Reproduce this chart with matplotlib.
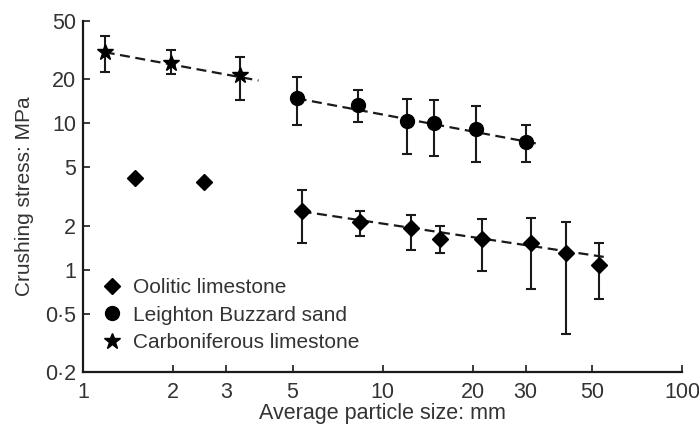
import matplotlib.pyplot as plt
from matplotlib.lines import Line2D

# Oolitic limestone (diamonds)
ool_x = [1.49, 2.54, 5.36, 8.38, 12.4, 15.5, 21.4, 31.3, 40.9, 52.7]
ool_y = [4.2, 3.94, 2.50, 2.10, 1.91, 1.63, 1.63, 1.53, 1.29, 1.08]
ool_lo = [None, None, 1.53, 1.71, 1.37, 1.29, 0.98, 0.74, 0.365, 0.63]
ool_hi = [None, None, 3.48, 2.50, 2.38, 2.00, 2.23, 2.27, 2.10, 1.51]
ool_fit_x = [5.36, 56.5]
ool_fit_y = [2.50, 1.21]

# Leighton Buzzard sand (circles)
sand_x = [5.16, 8.3, 12.1, 14.8, 20.5, 30.1]
sand_y = [14.8, 13.3, 10.3, 10.0, 9.2, 7.4]
sand_lo = [9.8, 10.2, 6.2, 6.0, 5.4, 5.4]
sand_hi = [20.7, 16.8, 14.6, 14.4, 13.1, 9.7]
sand_fit_x = [5.16, 33.5]
sand_fit_y = [14.8, 7.2]

# Carboniferous limestone (stars)
carb_x = [1.18, 1.97, 3.35]
carb_y = [30.6, 25.8, 21.3]
carb_lo = [22.4, 21.7, 14.4]
carb_hi = [39.4, 31.6, 28.3]
carb_fit_x = [1.18, 3.85]
carb_fit_y = [30.6, 19.6]

xticks = [1, 2, 3, 5, 10, 20, 30, 50, 100]
xtick_labels = ["1", "2", "3", "5", "10", "20", "30", "50", "100"]
yticks = [0.2, 0.5, 1, 2, 5, 10, 20, 50]
ytick_labels = ["0·2", "0·5", "1", "2", "5", "10", "20", "50"]

plt.rcParams['font.family'] = ['Liberation Sans', 'DejaVu Sans']
txt = '#333333'

fig = plt.figure(figsize=(6.99, 4.28), dpi=100)
ax = fig.add_axes([0.119, 0.131, 0.857, 0.820])
ax.set_xscale('log')
ax.set_yscale('log')

ekw = dict(fmt='none', ecolor='#1a1a1a', elinewidth=1.5, capsize=3.3, capthick=1.5)

# error bars
ex = [x for x, l in zip(ool_x, ool_lo) if l is not None]
ey = [y for y, l in zip(ool_y, ool_lo) if l is not None]
el = [l for l in ool_lo if l is not None]
eh = [h for h in ool_hi if h is not None]
ax.errorbar(ex, ey, yerr=[[y - l for y, l in zip(ey, el)], [h - y for y, h in zip(ey, eh)]], **ekw)
ax.errorbar(sand_x, sand_y, yerr=[[y - l for y, l in zip(sand_y, sand_lo)],
                                  [h - y for y, h in zip(sand_y, sand_hi)]], **ekw)
ax.errorbar(carb_x, carb_y, yerr=[[y - l for y, l in zip(carb_y, carb_lo)],
                                  [h - y for y, h in zip(carb_y, carb_hi)]], **ekw)

# fitted trend lines
for fx, fy in [(ool_fit_x, ool_fit_y), (sand_fit_x, sand_fit_y), (carb_fit_x, carb_fit_y)]:
    ax.plot(fx, fy, color='#1a1a1a', lw=1.6, ls=(0, (4.5, 2.5)))

ax.plot(ool_x, ool_y, 'D', color='black', ms=8.5, zorder=5)
ax.plot(sand_x, sand_y, 'o', color='black', ms=10, zorder=5)
ax.plot(carb_x, carb_y, '*', color='black', ms=12, zorder=5)

ax.set_xlim(1, 100)
ax.set_ylim(0.2, 50)
ax.set_xticks(xticks)
ax.set_xticklabels(xtick_labels)
ax.set_yticks(yticks)
ax.set_yticklabels(ytick_labels)
ax.minorticks_off()
ax.tick_params(direction='in', length=5, width=1.2, labelsize=15.5, colors='#1a1a1a',
               labelcolor=txt, pad=5)
ax.tick_params(axis='x', pad=7)

for s in ['top', 'right']:
    ax.spines[s].set_visible(False)
for s in ['left', 'bottom']:
    ax.spines[s].set_linewidth(1.6)
    ax.spines[s].set_color('#1a1a1a')

ax.set_xlabel("Average particle size: mm", fontsize=15.5, color=txt, labelpad=0)
ax.set_ylabel("Crushing stress: MPa", fontsize=15, color=txt, labelpad=8)

handles = [
    Line2D([], [], ls='none', marker='D', color='black', ms=8.5),
    Line2D([], [], ls='none', marker='o', color='black', ms=10),
    Line2D([], [], ls='none', marker='*', color='black', ms=12),
]
labels = ["Oolitic limestone", "Leighton Buzzard sand", "Carboniferous limestone"]
leg = ax.legend(handles, labels, loc='lower left', bbox_to_anchor=(0.017, 0.033), frameon=False,
                fontsize=15, handlelength=1.0, handletextpad=0.5, labelspacing=0.4,
                borderaxespad=0)
for t in leg.get_texts():
    t.set_color(txt)

fig.savefig("out.png", dpi=100)
